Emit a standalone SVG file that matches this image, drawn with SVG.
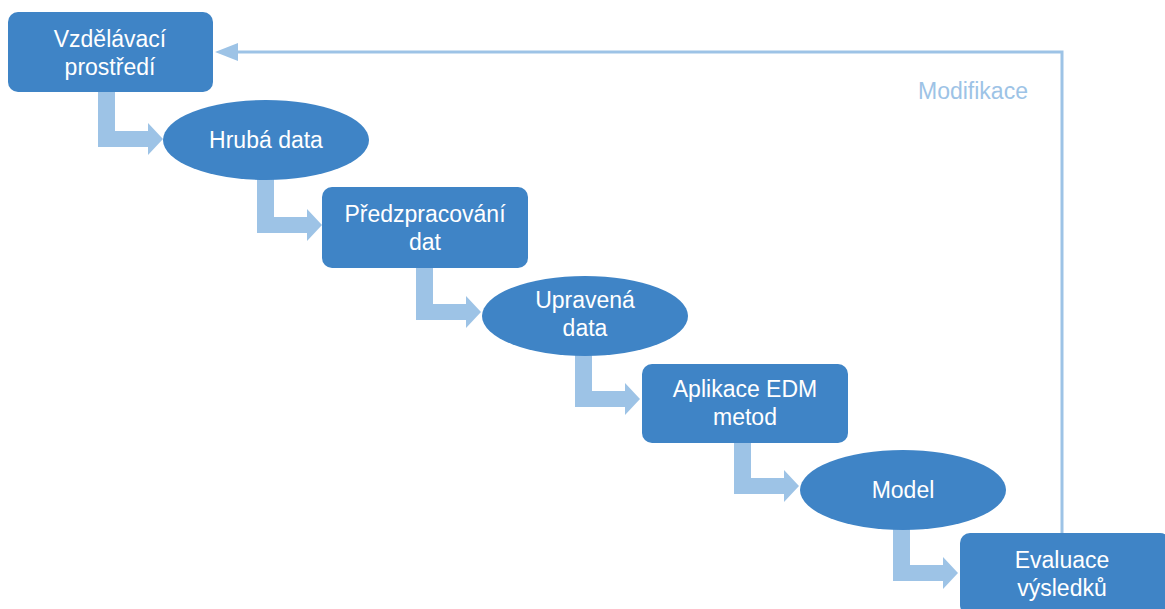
<svg xmlns="http://www.w3.org/2000/svg" xmlns:xlink="http://www.w3.org/1999/xlink" width="1165" height="609" viewBox="0 0 1165 609">
  <style>
    .node { fill: #3F84C6; }
    .label { font-family: "Liberation Sans", Arial, sans-serif; font-size: 23px; fill: #FFFFFF; text-anchor: middle; }
    .flow { fill: #9DC3E6; }
    .feedback { fill: none; stroke: #9DC3E6; stroke-width: 3; }
    .note { font-family: "Liberation Sans", Arial, sans-serif; font-size: 23px; fill: #9DC3E6; }
  </style>
  <defs>
    <!-- bent block arrow: origin = left edge of the stem, top of the horizontal bar -->
    <path id="bent" d="M0,-45 H17 V0 H50 V-8 L65,8 L50,24 V16 H0 Z"/>
  </defs>

  <g id="connectors">
    <use xlink:href="#bent" class="flow" x="98" y="131"/>
    <use xlink:href="#bent" class="flow" x="257" y="217"/>
    <use xlink:href="#bent" class="flow" x="416" y="304"/>
    <use xlink:href="#bent" class="flow" x="575" y="391"/>
    <use xlink:href="#bent" class="flow" x="734" y="478"/>
    <use xlink:href="#bent" class="flow" x="893" y="565"/>
    <!-- feedback loop -->
    <polyline class="feedback" points="1062,534 1062,52 238,52"/>
    <path d="M238,43 L215,52 L238,61 Z" fill="#9DC3E6"/>
    <text class="note" x="918" y="99">Modifikace</text>
  </g>

  <g id="vzdelavaci-prostredi">
    <rect class="node" x="8" y="12" width="205" height="80" rx="10"/>
    <text class="label" x="110" y="47">Vzdělávací</text>
    <text class="label" x="110" y="75">prostředí</text>
  </g>

  <g id="hruba-data">
    <ellipse class="node" cx="266" cy="140" rx="103" ry="40"/>
    <text class="label" x="266" y="148">Hrubá data</text>
  </g>

  <g id="predzpracovani-dat">
    <rect class="node" x="322" y="187" width="206" height="81" rx="10"/>
    <text class="label" x="425" y="222">Předzpracování</text>
    <text class="label" x="425" y="250">dat</text>
  </g>

  <g id="upravena-data">
    <ellipse class="node" cx="585" cy="316" rx="103" ry="40"/>
    <text class="label" x="585" y="308">Upravená</text>
    <text class="label" x="585" y="336">data</text>
  </g>

  <g id="aplikace-edm">
    <rect class="node" x="642" y="364" width="206" height="79" rx="10"/>
    <text class="label" x="745" y="397">Aplikace EDM</text>
    <text class="label" x="745" y="425">metod</text>
  </g>

  <g id="model">
    <ellipse class="node" cx="903" cy="490" rx="103" ry="40"/>
    <text class="label" x="903" y="498">Model</text>
  </g>

  <g id="evaluace-vysledku">
    <rect class="node" x="960" y="533" width="210" height="82" rx="10"/>
    <text class="label" x="1062" y="568">Evaluace</text>
    <text class="label" x="1062" y="596">výsledků</text>
  </g>
</svg>
